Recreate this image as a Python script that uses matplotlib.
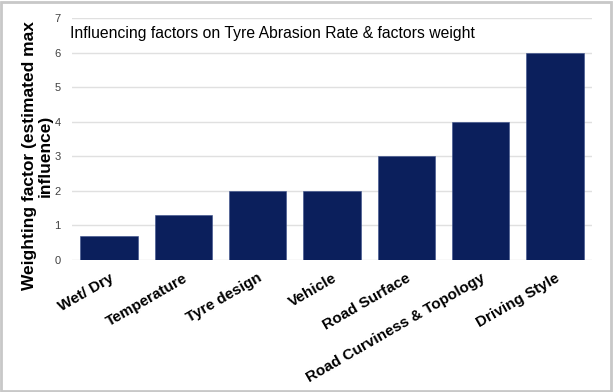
import numpy as np
import matplotlib.pyplot as plt
from matplotlib.patches import Rectangle

plt.rcParams['font.family'] = ['Liberation Sans', 'DejaVu Sans']

# factores y pesos
factors = ['Wet/ Dry', 'Temperature', 'Tyre design', 'Vehicle', 'Road Surface',
           'Road Curviness & Topology', 'Driving Style']
weights = [0.7, 1.3, 2, 2, 3, 4, 6]
yticks = [0, 1, 2, 3, 4, 5, 6, 7]

fig = plt.figure(figsize=(6.13, 3.92), dpi=100)
ax = fig.add_axes([0.117, 0.337, 0.849, 0.617])

x = np.arange(len(factors))
ax.bar(x, weights, width=0.77, color='#0b1f5c', edgecolor='#3a4f8a', linewidth=0.4, zorder=3)

ax.set_xlim(-0.5, len(factors) - 0.5)
ax.set_ylim(0, 7)
ax.set_yticks(yticks)
ax.set_yticklabels([str(v) for v in yticks], fontsize=8, color='#404040')
ax.yaxis.grid(True, color='#e0e0e0', linewidth=1, zorder=0)
ax.tick_params(axis='both', length=0, pad=8)
for s in ax.spines.values():
    s.set_visible(False)

ax.set_xticks(x)
ax.set_xticklabels(factors, rotation=30, ha='right', rotation_mode='anchor',
                   fontsize=11, fontweight='bold')

ax.set_ylabel('Weighting factor (estimated max\ninfluence)', fontsize=12.5,
              fontweight='bold', linespacing=1.0)
ax.yaxis.set_label_coords(-0.037, 0.43)

ax.text(-0.52, 6.55, 'Influencing factors on Tyre Abrasion Rate & factors weight',
        fontsize=11.3, va='center', ha='left')

# borde gris
fig.patches.append(Rectangle((0.002, 0.003), 0.995, 0.993, transform=fig.transFigure,
                             fill=False, edgecolor='#c8c8c8', linewidth=2))

fig.savefig('out.png', dpi=100)
